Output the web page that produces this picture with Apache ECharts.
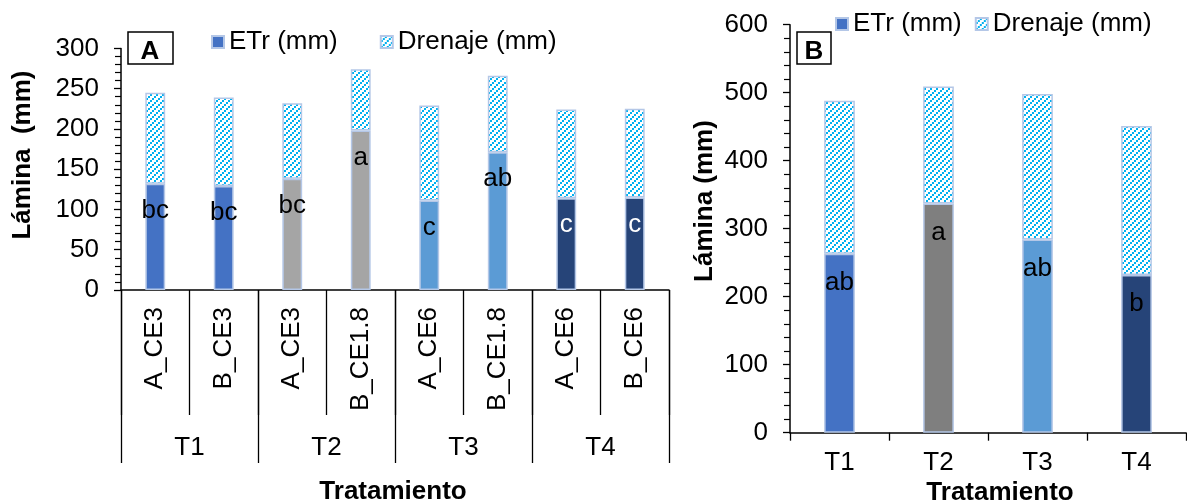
<!DOCTYPE html>
<html>
<head>
<meta charset="utf-8">
<script src="https://cdn.jsdelivr.net/npm/echarts@6/dist/echarts.min.js"></script>
<style>
html,body{margin:0;padding:0;background:#fff;}
#c{width:1187px;height:503px;}
</style>
</head>
<body>
<div id="c"></div>
<script>
// ---- Data ----
const categoriesA = ['A_CE3', 'B_CE3', 'A_CE3', 'B_CE1.8', 'A_CE6', 'B_CE1.8', 'A_CE6', 'B_CE6'];
const groupsA = ['T1', 'T2', 'T3', 'T4'];
const etrA = [132, 129, 138, 198, 111, 171, 114, 115];
const drenajeA = [113, 110, 94, 76, 118, 95, 110, 110];
const lettersA = ['bc', 'bc', 'bc', 'a', 'c', 'ab', 'c', 'c'];

const categoriesB = ['T1', 'T2', 'T3', 'T4'];
const etrB = [263, 337, 284, 232];
const drenajeB = [225, 172, 214, 219];
const lettersB = ['ab', 'a', 'ab', 'b'];

const yRangeA = [0, 300, 50];
const yRangeB = [0, 600, 100];
const seriesNames = ['ETr (mm)', 'Drenaje (mm)'];
const axisTitleY = ['Lámina  (mm)', 'Lámina (mm)'];
const axisTitleX = 'Tratamiento';
const panelTags = ['A', 'B'];

// ---- Styles ----
const colorsA = ['#4472C4', '#4472C4', '#A5A5A5', '#A5A5A5', '#5B9BD5', '#5B9BD5', '#264478', '#264478'];
const colorsB = ['#4472C4', '#7F7F7F', '#5B9BD5', '#264478'];
const letterColorsA = ['#000', '#000', '#000', '#000', '#000', '#000', '#fff', '#fff'];
const letterColorsB = ['#000', '#000', '#000', '#000'];
const FONT = "'Liberation Sans', Arial, sans-serif";
const BORDER = '#B4C7E7';

function hatch() {
  const c = document.createElement('canvas');
  c.width = 6; c.height = 6;
  const g = c.getContext('2d');
  g.fillStyle = '#fff';
  g.fillRect(0, 0, 6, 6);
  g.fillStyle = '#00B0F0';
  g.fillRect(0, 4, 2, 2);
  g.fillRect(2, 2, 2, 2);
  g.fillRect(4, 0, 2, 2);
  return c;
}
const pattern = { image: hatch(), repeat: 'repeat' };

const chart = echarts.init(document.getElementById('c'), null, { renderer: 'canvas' });

const txt = { color: '#000', fontFamily: FONT, fontSize: 26 };

function yAxis(grid, r) {
  return {
    type: 'value', gridIndex: grid, min: r[0], max: r[1], interval: r[2],
    axisLine: { show: true, lineStyle: { color: '#000', width: 1.5 } },
    axisTick: { show: true, length: 7, lineStyle: { color: '#000', width: 1.3 } },
    minorTick: { show: true, splitNumber: 5, length: 6, lineStyle: { color: '#000', width: 1.2 } },
    splitLine: { show: false },
    axisLabel: Object.assign({ margin: 22 }, txt)
  };
}

function etrSeries(xi, yi, vals, colors, letters, lcolors, stack, dist, bw) {
  return {
    name: seriesNames[0], type: 'bar', stack: stack, xAxisIndex: xi, yAxisIndex: yi,
    barWidth: bw,
    itemStyle: { color: '#4472C4', borderColor: BORDER, borderWidth: 1.5 },
    data: vals.map((v, i) => ({
      value: v,
      itemStyle: { color: colors[i] },
      label: { show: true, position: 'insideTop', distance: dist, formatter: letters[i],
               color: lcolors[i], fontFamily: FONT, fontSize: 26 }
    }))
  };
}
function drenSeries(xi, yi, vals, stack, bw) {
  return {
    name: seriesNames[1], type: 'bar', stack: stack, xAxisIndex: xi, yAxisIndex: yi,
    barWidth: bw,
    itemStyle: { color: pattern, borderColor: BORDER, borderWidth: 1.5 },
    data: vals
  };
}

const legendBase = {
  icon: 'rect', itemWidth: 12, itemHeight: 12,
  textStyle: Object.assign({}, txt, { fontSize: 26 }),
  data: seriesNames, selectedMode: false
};

chart.setOption({
  animation: false,
  grid: [
    { left: 121, top: 48.4, width: 548, height: 241.6, containLabel: false },
    { left: 790, top: 24.7, width: 396, height: 408, containLabel: false }
  ],
  legend: [
    Object.assign({ left: 206, top: 24, itemGap: 42 }, legendBase),
    Object.assign({ left: 830, top: 6, itemGap: 13 }, legendBase)
  ],
  xAxis: [
    {
      type: 'category', gridIndex: 0, data: categoriesA, position: 'bottom',
      axisLine: { show: true, lineStyle: { color: '#000', width: 1.5 } },
      axisTick: { show: true, interval: 0, length: 125, lineStyle: { color: '#000', width: 1.3 } },
      axisLabel: Object.assign({ rotate: 90, interval: 0, margin: 17 }, txt)
    },
    {
      type: 'category', gridIndex: 0, data: groupsA, position: 'bottom', offset: 0,
      axisLine: { show: false },
      axisTick: { show: true, interval: 0, length: 173, lineStyle: { color: '#000', width: 1.3 } },
      axisLabel: Object.assign({ interval: 0, margin: 145 }, txt)
    },
    {
      type: 'category', gridIndex: 1, data: categoriesB, position: 'bottom',
      axisLine: { show: true, lineStyle: { color: '#000', width: 1.5 } },
      axisTick: { show: true, interval: 0, length: 8, lineStyle: { color: '#000', width: 1.3 } },
      axisLabel: Object.assign({ interval: 0, margin: 17 }, txt)
    }
  ],
  yAxis: [yAxis(0, yRangeA), yAxis(1, yRangeB)],
  series: [
    etrSeries(0, 0, etrA, colorsA, lettersA, letterColorsA, 'A', 14, '29%'),
    drenSeries(0, 0, drenajeA, 'A', '29%'),
    etrSeries(2, 1, etrB, colorsB, lettersB, letterColorsB, 'B', 16, '31%'),
    drenSeries(2, 1, drenajeB, 'B', '31%')
  ],
  graphic: [
    { type: 'rect', shape: { x: 128, y: 32, width: 45, height: 32 },
      style: { fill: '#fff', stroke: '#000', lineWidth: 1.5 }, z: 10 },
    { type: 'text', x: 150, y: 52, z: 11,
      style: { text: panelTags[0], font: "bold 26px " + FONT, fill: '#000', align: 'center', verticalAlign: 'middle' } },
    { type: 'rect', shape: { x: 797, y: 32, width: 34, height: 32 },
      style: { fill: '#fff', stroke: '#000', lineWidth: 1.5 }, z: 10 },
    { type: 'text', x: 814, y: 52, z: 11,
      style: { text: panelTags[1], font: "bold 26px " + FONT, fill: '#000', align: 'center', verticalAlign: 'middle' } },
    { type: 'text', x: 23, y: 155, rotation: Math.PI / 2, z: 11,
      style: { text: axisTitleY[0], font: "bold 26px " + FONT, fill: '#000', align: 'center', verticalAlign: 'middle' } },
    { type: 'text', x: 705, y: 201, rotation: Math.PI / 2, z: 11,
      style: { text: axisTitleY[1], font: "bold 26px " + FONT, fill: '#000', align: 'center', verticalAlign: 'middle' } },
    { type: 'text', x: 393, y: 492, z: 11,
      style: { text: axisTitleX, font: "bold 26px " + FONT, fill: '#000', align: 'center', verticalAlign: 'middle' } },
    { type: 'text', x: 1000, y: 493, z: 11,
      style: { text: axisTitleX, font: "bold 26px " + FONT, fill: '#000', align: 'center', verticalAlign: 'middle' } }
  ]
});
</script>
</body>
</html>
